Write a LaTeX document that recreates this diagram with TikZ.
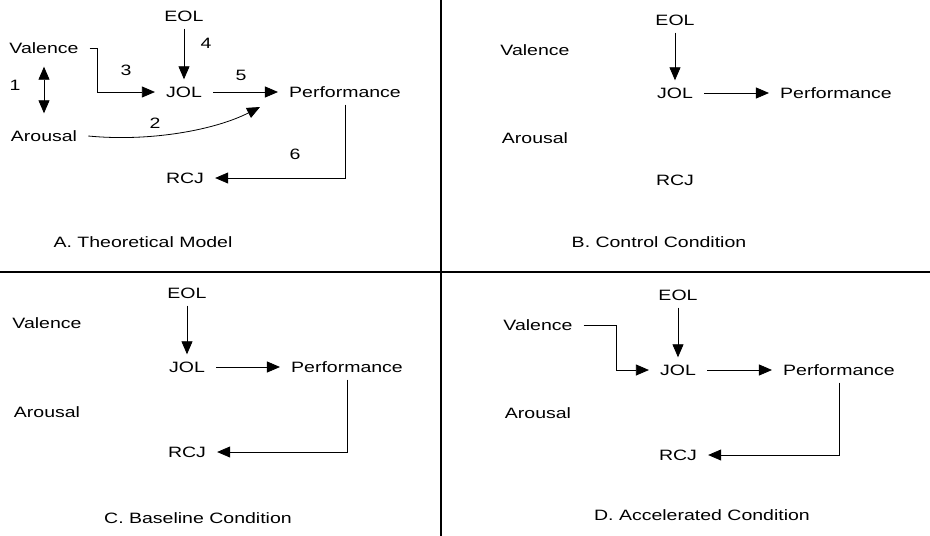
\documentclass[tikz,border=0pt]{standalone}
\usepackage{fontspec}
\setmainfont{Liberation Sans}[FakeStretch=1.3]
\usetikzlibrary{arrows.meta}

\begin{document}
\begin{tikzpicture}[x=1pt, y=-1pt,
		every node/.style={font=\fontsize{15}{18}\selectfont},
		lbl/.style={inner xsep=11pt, inner ysep=7pt, text height=11pt, text depth=0pt},
		num/.style={inner sep=0pt},
		tip/.tip={Triangle[length=13pt,width=11pt]},
		conn/.style={line width=0.8pt, -tip}]
	\useasboundingbox (0,0) rectangle (930,536);
	% dividers
	\draw[line width=2pt] (441,0) -- (441,536);
	\draw[line width=2pt] (0,272) -- (930,272);

	% A. theoretical model
	\node[lbl] (aEol) at (184,16) {EOL};
	\node[lbl] (aVal) at (44,48) {Valence};
	\node[lbl] (aJol) at (184,92) {JOL};
	\node[lbl] (aPerf) at (345,92) {Performance};
	\node[lbl] (aAro) at (44,136) {Arousal};
	\node[lbl] (aRcj) at (185,178) {RCJ};
	\coordinate (aTip) at (260,107);
	\node[num] (n1) at (15,85) {1};
	\node[num] (n2) at (155,123) {2};
	\node[num] (n3) at (126,70) {3};
	\node[num] (n4) at (206,43) {4};
	\node[num] (n5) at (241,75) {5};
	\node[num] (n6) at (295,154) {6};
	\draw[line width=0.8pt, tip-tip, shorten <=6pt, shorten >=10pt] (aVal.south) -- (aAro.north);
	\draw[conn] (aEol) -- (aJol);
	\draw[conn] (aVal.east) -- ++(8,0) |- (aJol.west);
	\draw[conn] (aJol) -- (aPerf);
	\draw[conn] (aAro.east) .. controls (150,142) and (215,130) .. (aTip);
	\draw[conn] (aPerf.south) |- (aRcj.east);
	\node (capA) at (143,242) {A. Theoretical Model};

	% B. control condition
	\node[lbl] (bEol) at (675,20) {EOL};
	\node[lbl] (bVal) at (535,50) {Valence};
	\node[lbl] (bJol) at (675,93) {JOL};
	\node[lbl] (bPerf) at (836,93) {Performance};
	\node[lbl] (bAro) at (535,138) {Arousal};
	\node[lbl] (bRcj) at (675,180) {RCJ};
	\draw[conn] (bEol) -- (bJol);
	\draw[conn] (bJol) -- (bPerf);
	\node (capB) at (659,242) {B. Control Condition};

	% C. baseline condition
	\node[lbl] (cEol) at (187,293) {EOL};
	\node[lbl] (cVal) at (47,323) {Valence};
	\node[lbl] (cJol) at (187,367) {JOL};
	\node[lbl] (cPerf) at (347,367) {Performance};
	\node[lbl] (cAro) at (47,412) {Arousal};
	\node[lbl] (cRcj) at (187,452) {RCJ};
	\draw[conn] (cEol) -- (cJol);
	\draw[conn] (cJol) -- (cPerf);
	\draw[conn] (cPerf.south) |- (cRcj.east);
	\node (capC) at (198,518) {C. Baseline Condition};

	% D. accelerated condition
	\node[lbl] (dEol) at (678,295) {EOL};
	\node[lbl] (dVal) at (538,325) {Valence};
	\node[lbl] (dJol) at (678,370) {JOL};
	\node[lbl] (dPerf) at (839,370) {Performance};
	\node[lbl] (dAro) at (538,413) {Arousal};
	\node[lbl] (dRcj) at (678,455) {RCJ};
	\draw[conn] (dEol) -- (dJol);
	\draw[conn] (dVal.east) -- ++(33,0) |- (dJol.west);
	\draw[conn] (dJol) -- (dPerf);
	\draw[conn] (dPerf.south) |- (dRcj.east);
	\node (capD) at (702,515) {D. Accelerated Condition};
\end{tikzpicture}
\end{document}
